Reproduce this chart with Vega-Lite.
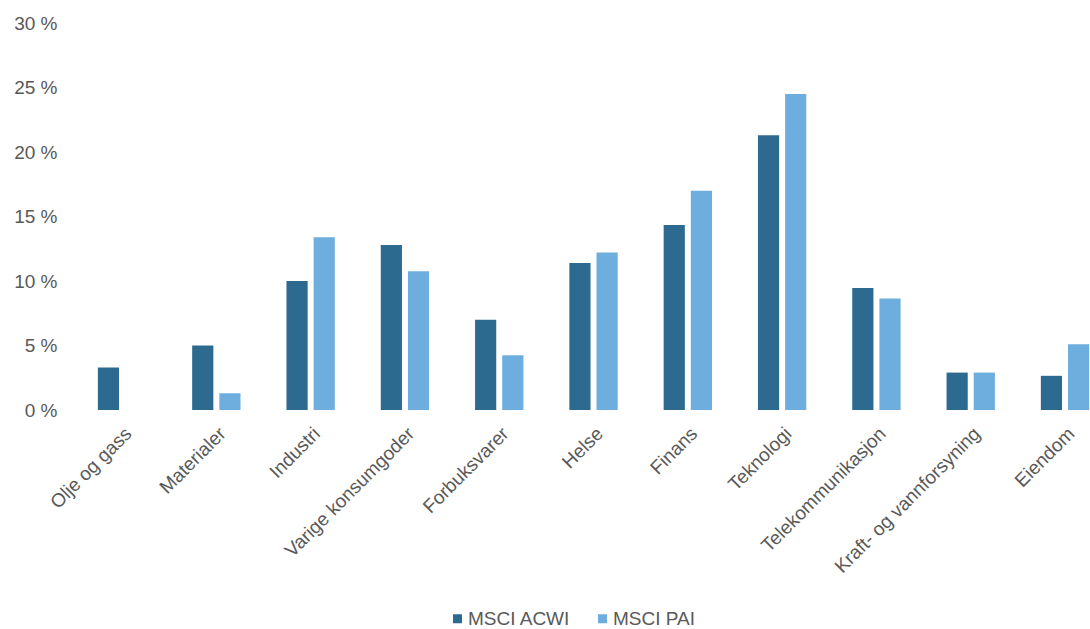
{
  "$schema": "https://vega.github.io/schema/vega-lite/v6.json",
  "autosize": {"type": "none"},
  "width": 1025,
  "height": 387,
  "padding": {"left": 65, "top": 23, "right": 0, "bottom": 219},
  "background": "white",
  "config": {
    "view": {"stroke": null},
    "font": "Liberation Sans",
    "axis": {"labelFont": "Liberation Sans", "labelColor": "#595959", "grid": false, "domain": false, "ticks": false},
    "legend": {"labelFont": "Liberation Sans", "labelColor": "#595959"}
  },
  "data": {
    "values": [
      {"sektor": "Olje og gass", "indeks": "MSCI ACWI", "andel": 3.3},
      {"sektor": "Olje og gass", "indeks": "MSCI PAI", "andel": 0},
      {"sektor": "Materialer", "indeks": "MSCI ACWI", "andel": 5.0},
      {"sektor": "Materialer", "indeks": "MSCI PAI", "andel": 1.3},
      {"sektor": "Industri", "indeks": "MSCI ACWI", "andel": 10.0},
      {"sektor": "Industri", "indeks": "MSCI PAI", "andel": 13.4},
      {"sektor": "Varige konsumgoder", "indeks": "MSCI ACWI", "andel": 12.8},
      {"sektor": "Varige konsumgoder", "indeks": "MSCI PAI", "andel": 10.75},
      {"sektor": "Forbuksvarer", "indeks": "MSCI ACWI", "andel": 7.0},
      {"sektor": "Forbuksvarer", "indeks": "MSCI PAI", "andel": 4.25},
      {"sektor": "Helse", "indeks": "MSCI ACWI", "andel": 11.4},
      {"sektor": "Helse", "indeks": "MSCI PAI", "andel": 12.2},
      {"sektor": "Finans", "indeks": "MSCI ACWI", "andel": 14.35},
      {"sektor": "Finans", "indeks": "MSCI PAI", "andel": 17.0},
      {"sektor": "Teknologi", "indeks": "MSCI ACWI", "andel": 21.3},
      {"sektor": "Teknologi", "indeks": "MSCI PAI", "andel": 24.5},
      {"sektor": "Telekommunikasjon", "indeks": "MSCI ACWI", "andel": 9.45},
      {"sektor": "Telekommunikasjon", "indeks": "MSCI PAI", "andel": 8.65},
      {"sektor": "Kraft- og vannforsyning", "indeks": "MSCI ACWI", "andel": 2.9},
      {"sektor": "Kraft- og vannforsyning", "indeks": "MSCI PAI", "andel": 2.9},
      {"sektor": "Eiendom", "indeks": "MSCI ACWI", "andel": 2.65},
      {"sektor": "Eiendom", "indeks": "MSCI PAI", "andel": 5.1}
    ]
  },
  "mark": {"type": "bar"},
  "encoding": {
    "x": {
      "field": "sektor",
      "type": "nominal",
      "sort": null,
      "scale": {"paddingInner": 0.47, "paddingOuter": 0.17, "align": 1},
      "axis": {"title": null, "labelAngle": -45, "labelFontSize": 19, "labelPadding": 14, "labelLimit": 400}
    },
    "xOffset": {
      "field": "indeks",
      "type": "nominal",
      "scale": {"domain": ["MSCI ACWI", "MSCI PAI"], "paddingInner": 0.22, "paddingOuter": 0.03}
    },
    "y": {
      "field": "andel",
      "type": "quantitative",
      "scale": {"domain": [0, 30], "nice": false},
      "axis": {"title": null, "values": [0, 5, 10, 15, 20, 25, 30], "labelExpr": "datum.value + ' %'", "labelFontSize": 19, "labelPadding": 8}
    },
    "color": {
      "field": "indeks",
      "type": "nominal",
      "scale": {"domain": ["MSCI ACWI", "MSCI PAI"], "range": ["#2c6a8f", "#6eaede"]},
      "legend": {
        "title": null,
        "orient": "none",
        "direction": "horizontal",
        "legendX": 383,
        "legendY": 586,
        "symbolType": "square",
        "symbolSize": 81,
        "symbolStrokeWidth": 0,
        "labelFontSize": 19,
        "labelOffset": 1,
        "columnPadding": 22
      }
    }
  }
}
